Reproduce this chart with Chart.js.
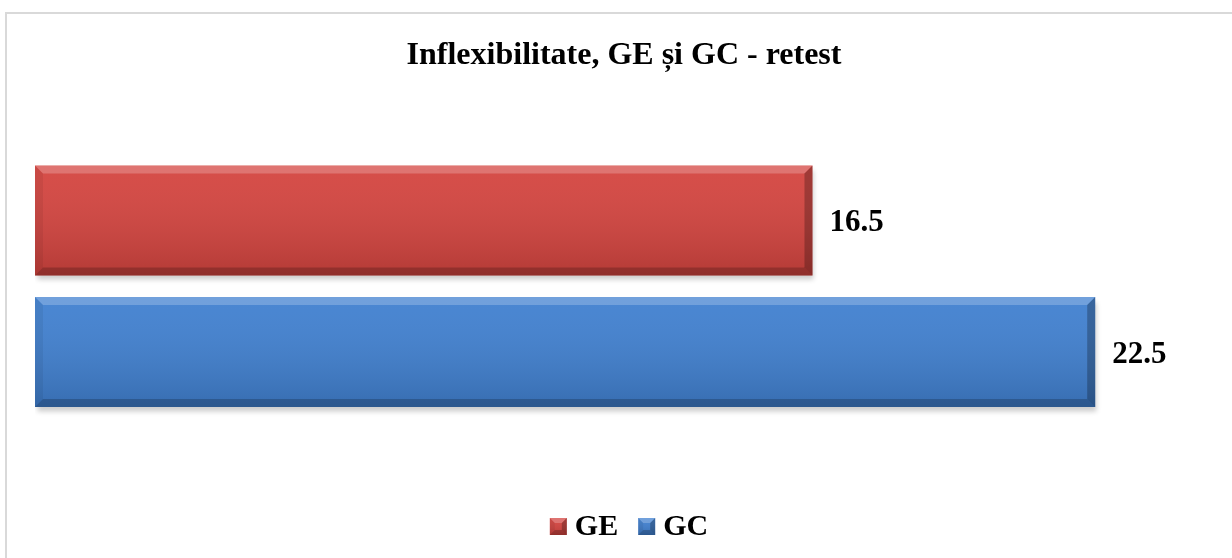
<!DOCTYPE html>
<html>
<head>
<meta charset="utf-8">
<title>Inflexibilitate, GE și GC - retest</title>
<script src="https://cdn.jsdelivr.net/npm/chart.js@4.4.1/dist/chart.umd.min.js"></script>
<style>
  html, body { margin: 0; padding: 0; background: #fff; overflow: hidden; }
  .frame {
    position: absolute; left: 5px; top: 12px; width: 1240px; height: 560px;
    border-left: 2px solid #d9d9d9; border-top: 2px solid #d9d9d9;
  }
  .wrap { position: absolute; left: 0; top: 0; width: 1232px; height: 558px; }
</style>
</head>
<body>
<div class="frame"></div>
<div class="wrap"><canvas id="chart"></canvas></div>
<script>
// Chart data
const chartTitle = 'Inflexibilitate, GE și GC - retest';
const categories = ['Inflexibilitate'];
const seriesNames = ['GE', 'GC'];
const geValues = [16.5];
const gcValues = [22.5];
const seriesColors = ['#D4443F', '#4080D0'];
const axisMax = 25;

const serifFont = "'Liberation Serif', 'Times New Roman', serif";

/**
 * Fill a polygon
 */
function fillPoly(ctx, pts, fill) {
    ctx.beginPath();
    ctx.moveTo(pts[0][0], pts[0][1]);
    for (let i = 1; i < pts.length; i++) ctx.lineTo(pts[i][0], pts[i][1]);
    ctx.closePath();
    ctx.fillStyle = fill;
    ctx.fill();
}

/**
 * Bevel overlay on top of a flat rectangle
 */
function drawBevel(ctx, left, top, right, bottom, b) {
    const face = ctx.createLinearGradient(0, top, 0, bottom);
    face.addColorStop(0, 'rgba(255,255,255,0.05)');
    face.addColorStop(1, 'rgba(0,0,0,0.15)');
    ctx.fillStyle = face;
    ctx.fillRect(left, top, right - left, bottom - top);

    fillPoly(ctx, [[left, top], [right, top], [right - b, top + b], [left + b, top + b]], 'rgba(255,255,255,0.22)');
    fillPoly(ctx, [[left, top], [left + b, top + b], [left + b, bottom - b], [left, bottom]], 'rgba(0,0,0,0.06)');
    fillPoly(ctx, [[left, bottom], [left + b, bottom - b], [right - b, bottom - b], [right, bottom]], 'rgba(0,0,0,0.2)');
    fillPoly(ctx, [[right, top], [right, bottom], [right - b, bottom - b], [right - b, top + b]], 'rgba(0,0,0,0.25)');
}

// Shadow under the bars
const barShadow = {
    id: 'barShadow',
    beforeDatasetsDraw(chart) {
        const ctx = chart.ctx;
        ctx.save();
        ctx.shadowColor = 'rgba(0,0,0,0.2)';
        ctx.shadowBlur = 5;
        ctx.shadowOffsetX = 2;
        ctx.shadowOffsetY = 5;
    },
    afterDatasetsDraw(chart) {
        chart.ctx.restore();
    }
};

// Bevel + value labels
const barDecor = {
    id: 'barDecor',
    afterDatasetsDraw(chart) {
        const ctx = chart.ctx;
        chart.data.datasets.forEach((ds, i) => {
            const meta = chart.getDatasetMeta(i);
            meta.data.forEach((el, j) => {
                const p = el.getProps(['x', 'y', 'base', 'height'], true);
                const left = Math.min(p.base, p.x);
                const right = Math.max(p.base, p.x);
                const top = p.y - p.height / 2;
                const bottom = p.y + p.height / 2;
                ctx.save();
                drawBevel(ctx, left, top, right, bottom, 8);
                ctx.fillStyle = '#000';
                ctx.font = 'bold 31px ' + serifFont;
                ctx.textAlign = 'left';
                ctx.textBaseline = 'middle';
                ctx.fillText(String(ds.data[j]), right + 17, p.y + 3);
                ctx.restore();
            });
        });
    }
};

// Legend drawn at the bottom with bevelled squares
const bottomLegend = {
    id: 'bottomLegend',
    afterDraw(chart) {
        const ctx = chart.ctx;
        const sq = 17, gapText = 8, gapItem = 20;
        ctx.save();
        ctx.font = 'bold 30px ' + serifFont;
        const items = chart.data.datasets.map(ds => ({
            label: ds.label, color: ds.backgroundColor, w: ctx.measureText(ds.label).width
        }));
        let total = 0;
        items.forEach((it, i) => { total += sq + gapText + it.w + (i ? gapItem : 0); });
        let x = 629 - total / 2;
        const baseY = 535;
        items.forEach(it => {
            ctx.fillStyle = it.color;
            ctx.fillRect(x, baseY - sq, sq, sq);
            drawBevel(ctx, x, baseY - sq, x + sq, baseY, 5);
            ctx.fillStyle = '#000';
            ctx.textAlign = 'left';
            ctx.textBaseline = 'alphabetic';
            ctx.fillText(it.label, x + sq + gapText, baseY);
            x += sq + gapText + it.w + gapItem;
        });
        ctx.restore();
    }
};

new Chart(document.getElementById('chart'), {
    type: 'bar',
    data: {
        labels: categories,
        datasets: [
            { label: seriesNames[0], data: geValues, backgroundColor: seriesColors[0] },
            { label: seriesNames[1], data: gcValues, backgroundColor: seriesColors[1] }
        ]
    },
    options: {
        indexAxis: 'y',
        responsive: true,
        maintainAspectRatio: false,
        animation: false,
        layout: { padding: { left: 35, right: 19, top: 20, bottom: 85 } },
        datasets: {
            bar: { barPercentage: 0.8365, categoryPercentage: 0.704, borderWidth: 0 }
        },
        scales: {
            x: { min: 0, max: axisMax, display: false },
            y: { display: false }
        },
        plugins: {
            legend: { display: false },
            tooltip: { enabled: false },
            title: {
                display: true,
                text: chartTitle,
                color: '#000',
                font: { family: serifFont, size: 32, weight: 'bold' },
                padding: { top: 17, bottom: 24 }
            }
        }
    },
    plugins: [barShadow, barDecor, bottomLegend]
});
</script>
</body>
</html>
